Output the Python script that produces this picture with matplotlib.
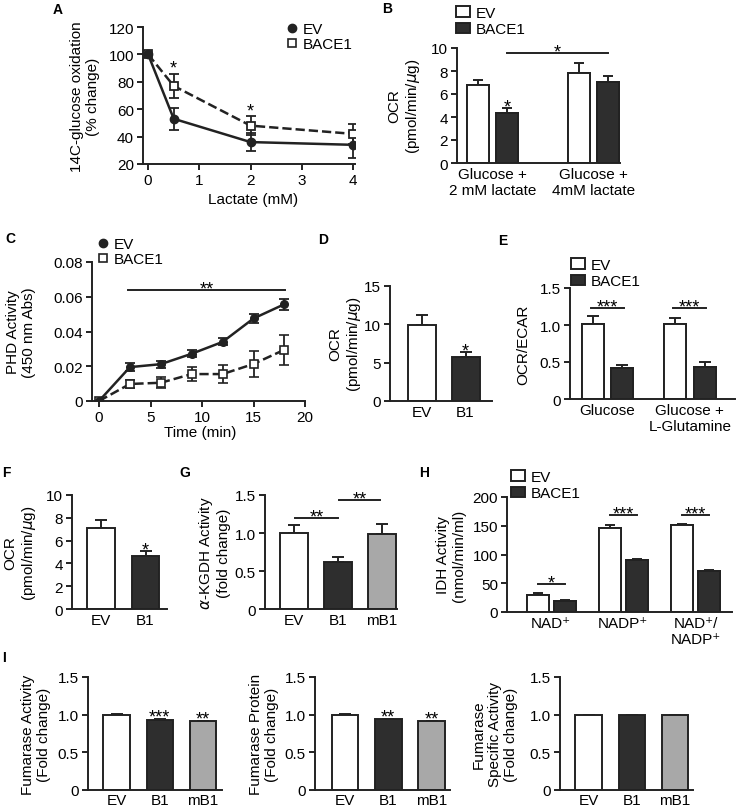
import numpy as np
import matplotlib
matplotlib.use('Agg')
import matplotlib.pyplot as plt
from matplotlib.lines import Line2D

plt.rcParams['font.family'] = ['Liberation Sans', 'DejaVu Sans']
plt.rcParams['font.size'] = 11

# ---- data ----
lactate_mM = [0, 0.5, 2, 4]
a_ev = [100, 53, 36, 34]
a_ev_err = [0, 8, 6.5, 9.5]
a_bace = [100, 77, 48, 42]
a_bace_err = [0, 9, 7, 7.5]
a_yticks = [20, 40, 60, 80, 100, 120]

b_groups = ['Glucose +\n2 mM lactate', 'Glucose +\n4mM lactate']
b_ev = [6.75, 7.85]
b_ev_err = [0.5, 0.85]
b_bace = [4.35, 7.05]
b_bace_err = [0.45, 0.55]

c_time = [0, 3, 6, 9, 12, 15, 18]
c_ev = [0, 0.0195, 0.0212, 0.0272, 0.034, 0.0475, 0.0557]
c_ev_err = [0, 0.0025, 0.002, 0.002, 0.002, 0.0025, 0.0032]
c_bace = [0, 0.0098, 0.0105, 0.0155, 0.0155, 0.0213, 0.0295]
c_bace_err = [0, 0.0025, 0.0032, 0.004, 0.0053, 0.0077, 0.0085]
c_yticks = [0, 0.02, 0.04, 0.06, 0.08]
c_yticklabels = ['0', '0.02', '0.04', '0.06', '0.08']

two_labels = ['EV', 'B1']
three_labels = ['EV', 'B1', 'mB1']

d_vals = [9.95, 5.7]
d_err = [1.3, 0.65]

e_groups = ['Glucose', 'Glucose +\nL-Glutamine']
e_ev = [1.01, 1.01]
e_ev_err = [0.11, 0.09]
e_bace = [0.42, 0.43]
e_bace_err = [0.04, 0.07]

f_vals = [7.1, 4.65]
f_err = [0.75, 0.45]

g_vals = [1.0, 0.62, 0.99]
g_err = [0.11, 0.06, 0.13]

h_groups = ['NAD\u207a', 'NADP\u207a', 'NAD\u207a/\nNADP\u207a']
h_ev = [30, 146, 150.5]
h_ev_err = [2.5, 5, 2]
h_bace = [20, 90, 71]
h_bace_err = [1.5, 1.5, 1.5]

i_activity = [1.0, 0.93, 0.91]
i_activity_err = [0.01, 0.01, 0.012]
i_protein = [1.0, 0.94, 0.91]
i_protein_err = [0.01, 0.008, 0.012]
i_specific = [1.0, 1.0, 1.0]
i_specific_err = [0, 0, 0]

fold_ticks = [0, 0.5, 1.0, 1.5]
fold_ticklabels = ['0', '0.5', '1.0', '1.5']

# ---- styles ----
EDGE = '#222222'
BLACK = '#2e2e2e'
GRAY = '#a8a8a8'
LW = 1.4
FS = 11

W, H = 737, 812
fig = plt.figure(figsize=(W / 100, H / 100), dpi=100)


def add_ax(left, top, right, bottom):
    return fig.add_axes([left / W, 1 - bottom / H, (right - left) / W, (bottom - top) / H])


def style(ax, bars=True):
    for s in ['top', 'right']:
        ax.spines[s].set_visible(False)
    for s in ['left', 'bottom']:
        ax.spines[s].set_linewidth(LW)
        ax.spines[s].set_color(EDGE)
    ax.tick_params(direction='out', length=4.5, width=LW, labelsize=FS, pad=2, color=EDGE)
    if bars:
        ax.tick_params(axis='x', length=0, pad=3)


def bar_xlim(ax, left, first, step, right):
    ax.set_xlim((left - first) / step, (right - first) / step)


def ylabel(ax, text, cx, left, right):
    ax.set_ylabel(text, va='center', ma='center', fontsize=FS)
    ax.yaxis.set_label_coords((cx - left) / (right - left), 0.5)


def bars(ax, pos, vals, errs, color, width, capsize=4):
    ax.bar(pos, vals, width, color=color, edgecolor=EDGE, linewidth=LW, zorder=2)
    ax.errorbar(pos, vals, yerr=[np.zeros(len(errs)), errs], fmt='none', ecolor=EDGE,
                elinewidth=LW, capsize=capsize, capthick=LW, zorder=1)


def star(ax, x, y, s, dy=-2.5):
    ax.annotate(s, (x, y), xytext=(0, dy), textcoords='offset points', ha='center',
                va='baseline', fontsize=13, annotation_clip=False)


def sig(ax, x0, x1, y, s):
    ax.plot([x0, x1], [y, y], color=EDGE, lw=LW, clip_on=False)
    star(ax, (x0 + x1) / 2, y, s)


def bar_legend(ax, h1, h2, x, y):
    ax.legend([h1, h2], ['EV', 'BACE1'], loc='upper left', bbox_to_anchor=(x / W, 1 - y / H),
              bbox_transform=fig.transFigure, frameon=False, borderpad=0, borderaxespad=0,
              handlelength=0.9, handleheight=0.7, handletextpad=0.4, labelspacing=0.15, fontsize=FS)


def marker_legend(ax, x, y):
    hs = [Line2D([], [], marker='o', ls='none', color=EDGE, ms=6),
          Line2D([], [], marker='s', ls='none', mfc='white', mec=EDGE, mew=1.2, ms=6)]
    ax.legend(hs, ['EV', 'BACE1'], loc='upper left', bbox_to_anchor=(x / W, 1 - y / H),
              bbox_transform=fig.transFigure, frameon=False, borderpad=0, borderaxespad=0,
              handlelength=0.6, handletextpad=0.4, labelspacing=0.08, fontsize=FS)


# ---- A ----
ax = add_ax(143, 28, 355, 165)
style(ax, bars=False)
ax.errorbar(lactate_mM, a_bace, yerr=a_bace_err, color=EDGE, lw=1.8, ls='--', marker='s',
            mfc='white', mec=EDGE, mew=1.3, ms=6, capsize=3.5, elinewidth=1.3, capthick=1.3)
ax.errorbar(lactate_mM, a_ev, yerr=a_ev_err, color=EDGE, lw=1.8, ls='-', marker='o',
            ms=6, capsize=3.5, elinewidth=1.3, capthick=1.3)
ax.set_xlim(-0.1, 4.04)
ax.set_ylim(20, 120)
ax.set_yticks(a_yticks)
ax.set_xticks([0, 1, 2, 3, 4])
ax.set_xlabel('Lactate (mM)', fontsize=FS)
ax.xaxis.set_label_coords((253 - 143) / 212, -(200 - 165) / 137)
ax.xaxis.label.set_va('center')
ylabel(ax, '14C-glucose oxidation\n(% change)', 85, 143, 355)
for k in [1, 2]:
    star(ax, lactate_mM[k], a_bace[k] + a_bace_err[k], '*', dy=0.5)
marker_legend(ax, 287, 23)

# ---- B ----
ax = add_ax(457, 49, 620, 164)
style(ax)
pos = np.arange(len(b_groups))
off, wd = 14.5 / 101, 22 / 101
hb1 = ax.bar(pos - off, b_ev, wd, color='white', edgecolor=EDGE, linewidth=LW, zorder=2)
bars(ax, pos - off, b_ev, b_ev_err, 'white', wd, 3.5)
hb2 = ax.bar(pos + off, b_bace, wd, color=BLACK, edgecolor=EDGE, linewidth=LW, zorder=2)
bars(ax, pos + off, b_bace, b_bace_err, BLACK, wd, 3.5)
bar_xlim(ax, 457, 492.5, 101, 620)
ax.set_ylim(0, 10)
ax.set_yticks([0, 2, 4, 6, 8, 10])
ax.set_xticks(pos)
ax.set_xticklabels(b_groups)
ylabel(ax, 'OCR\n(pmol/min/$\\mu$g)', 405, 457, 620)
star(ax, pos[0] + off, b_bace[0] + b_bace_err[0], '*')
sig(ax, pos[0] + off, pos[1] + off, 9.6, '*')
bar_legend(ax, hb1, hb2, 456, 7)

# ---- C ----
ax = add_ax(92, 263, 305, 402)
style(ax, bars=False)
ax.errorbar(c_time, c_bace, yerr=c_bace_err, color=EDGE, lw=1.8, ls='--', marker='s',
            mfc='white', mec=EDGE, mew=1.2, ms=6, capsize=3.5, elinewidth=1.3, capthick=1.3)
ax.errorbar(c_time, c_ev, yerr=c_ev_err, color=EDGE, lw=1.8, ls='-', marker='o',
            ms=5.5, capsize=3.5, elinewidth=1.3, capthick=1.3)
ax.set_xlim(-0.68, 20)
ax.set_ylim(0, 0.08)
ax.set_yticks(c_yticks)
ax.set_yticklabels(c_yticklabels)
ax.set_xticks([0, 5, 10, 15, 20])
ax.set_xlabel('Time (min)', fontsize=FS)
ax.xaxis.set_label_coords((200 - 92) / 213, -(433 - 402) / 139)
ax.xaxis.label.set_va('center')
ylabel(ax, 'PHD Activity\n(450 nm Abs)', 21, 92, 305)
sig(ax, 2.8, 18.06, 0.0636, '**')
marker_legend(ax, 98, 238)

# ---- D ----
ax = add_ax(390, 287, 492, 402)
style(ax)
pos = np.arange(2)
wd = 28 / 43.5
bars(ax, pos, d_vals, d_err, ['white', BLACK], wd, 4.5)
bar_xlim(ax, 390, 422, 43.5, 492)
ax.set_ylim(0, 15)
ax.set_yticks([0, 5, 10, 15])
ax.set_xticks(pos)
ax.set_xticklabels(two_labels)
ylabel(ax, 'OCR\n(pmol/min/$\\mu$g)', 346, 390, 492)
star(ax, 1, d_vals[1] + d_err[1], '*')

# ---- E ----
ax = add_ax(570, 289, 735, 400)
style(ax)
pos = np.arange(2)
off, wd = 14.75 / 82.5, 22 / 82.5
he1 = ax.bar(pos - off, e_ev, wd, color='white', edgecolor=EDGE, linewidth=LW, zorder=2)
bars(ax, pos - off, e_ev, e_ev_err, 'white', wd, 4.2)
he2 = ax.bar(pos + off, e_bace, wd, color=BLACK, edgecolor=EDGE, linewidth=LW, zorder=2)
bars(ax, pos + off, e_bace, e_bace_err, BLACK, wd, 4.2)
bar_xlim(ax, 570, 607.25, 82.5, 735)
ax.set_ylim(0, 1.5)
ax.set_yticks(fold_ticks)
ax.set_yticklabels(fold_ticklabels)
ax.set_xticks(pos)
ax.set_xticklabels(e_groups)
ylabel(ax, 'OCR/ECAR', 523, 570, 735)
for p in pos:
    sig(ax, p - 0.2, p + 0.2, 1.23, '***')
bar_legend(ax, he1, he2, 571, 259)

# ---- F ----
ax = add_ax(72, 496, 167, 610)
style(ax)
pos = np.arange(2)
wd = 27.5 / 44.5
bars(ax, pos, f_vals, f_err, ['white', BLACK], wd, 4.5)
bar_xlim(ax, 72, 101, 44.5, 167)
ax.set_ylim(0, 10)
ax.set_yticks([0, 2, 4, 6, 8, 10])
ax.set_xticks(pos)
ax.set_xticklabels(two_labels)
ylabel(ax, 'OCR\n(pmol/min/$\\mu$g)', 21, 72, 167)
star(ax, 1, f_vals[1] + f_err[1], '*')

# ---- G ----
ax = add_ax(265, 496, 397, 610)
style(ax)
pos = np.arange(3)
wd = 28 / 43.75
bars(ax, pos, g_vals, g_err, ['white', BLACK, GRAY], wd, 4.5)
bar_xlim(ax, 265, 294, 43.75, 397)
ax.set_ylim(0, 1.5)
ax.set_yticks(fold_ticks)
ax.set_yticklabels(fold_ticklabels)
ax.set_xticks(pos)
ax.set_xticklabels(three_labels)
ylabel(ax, '$\\alpha$-KGDH Activity\n(fold change)', 214, 265, 397)
sig(ax, 0.02, 1.0, 1.2, '**')
sig(ax, 1.03, 1.97, 1.43, '**')

# ---- H ----
ax = add_ax(507, 498, 732, 613)
style(ax)
pos = np.arange(3)
off, wd = 13.5 / 72.25, 22 / 72.25
hh1 = ax.bar(pos - off, h_ev, wd, color='white', edgecolor=EDGE, linewidth=LW, zorder=2)
bars(ax, pos - off, h_ev, h_ev_err, 'white', wd, 3.5)
hh2 = ax.bar(pos + off, h_bace, wd, color=BLACK, edgecolor=EDGE, linewidth=LW, zorder=2)
bars(ax, pos + off, h_bace, h_bace_err, BLACK, wd, 3.5)
bar_xlim(ax, 507, 551, 72.25, 732)
ax.set_ylim(0, 200)
ax.set_yticks([0, 50, 100, 150, 200])
ax.set_xticks(pos)
ax.set_xticklabels(h_groups)
ylabel(ax, 'IDH Activity\n(nmol/min/ml)', 451, 507, 732)
sig(ax, -off, off, 48.5, '*')
sig(ax, 1 - off, 1 + off, 168, '***')
sig(ax, 2 - off, 2 + off, 168, '***')
bar_legend(ax, hh1, hh2, 511, 471)

# ---- I ----
i_sets = [
    (88, 116.5, 222, i_activity, i_activity_err, 'Fumarase Activity\n(Fold change)', 36, ['', '***', '**']),
    (315, 345, 450, i_protein, i_protein_err, 'Fumarase Protein\n(Fold change)', 264, ['', '**', '**']),
    (560, 588.5, 693, i_specific, i_specific_err, 'Fumarase\nSpecific Activity\n(Fold change)', 495, ['', '', '']),
]
for left, first, right, vals, errs, lab, cx, stars_ in i_sets:
    ax = add_ax(left, 678, right, 791)
    style(ax)
    ax.tick_params(axis='x', pad=2)
    pos = np.arange(3)
    wd = 26.5 / 43.25
    bars(ax, pos, vals, errs, ['white', BLACK, GRAY], wd, 4)
    bar_xlim(ax, left, first, 43.25, right)
    ax.set_ylim(0, 1.5)
    ax.set_yticks(fold_ticks)
    ax.set_yticklabels(fold_ticklabels)
    ax.set_xticks(pos)
    ax.set_xticklabels(three_labels)
    ylabel(ax, lab, cx, left, right)
    for p, s in zip(pos, stars_):
        if s:
            star(ax, p, vals[p] + errs[p], s, dy=-2)

# ---- panel letters ----
for letter, x, y in [('A', 58, 10), ('B', 387, 9), ('C', 10, 239), ('D', 323, 240),
                     ('E', 503, 241), ('F', 6, 473), ('G', 185, 473), ('H', 424, 473),
                     ('I', 4, 658)]:
    fig.text(x / W, 1 - y / H, letter, fontsize=10, fontweight='bold', ha='center', va='center')

fig.savefig('out.png', dpi=100)
